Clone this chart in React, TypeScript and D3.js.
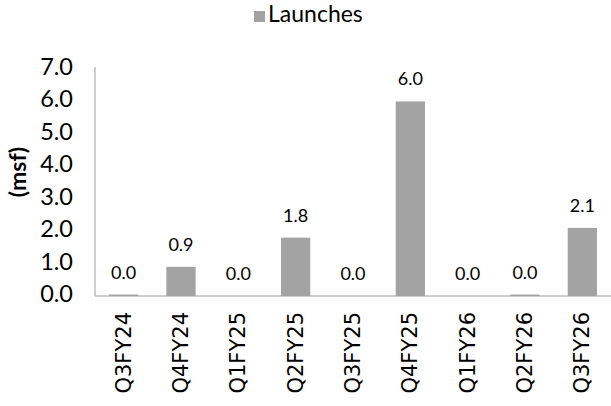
import React from "react";
import * as d3 from "d3";

const categories = ["Q3FY24", "Q4FY24", "Q1FY25", "Q2FY25", "Q3FY25", "Q4FY25", "Q1FY26", "Q2FY26", "Q3FY26"];
const launches = [0.045, 0.9, 0, 1.8, 0, 6.0, 0, 0.045, 2.1];
const yTicks = [0, 1, 2, 3, 4, 5, 6, 7];
const seriesName = "Launches";
const yTitle = "(msf)";

const W = 611;
const H = 406;
const left = 95;
const right = 611;
const top = 67;
const bottom = 296;

export default function App() {
  const x = d3.scaleBand<string>().domain(categories).range([left, right]).paddingInner(0.49).paddingOuter(0.245);
  const y = d3.scaleLinear().domain([0, 7]).range([bottom, top + 2]);
  const fmt = d3.format(".1f");
  const barColor = "#a3a3a3";
  const axisColor = "#bfbfbf";
  const lato = "Lato, 'Open Sans', sans-serif";
  return (
    <svg width={W} height={H} style={{ position: "absolute", left: 0, top: 0, background: "#fff" }}>
      <g>
        <rect x={254} y={11} width={11} height={11} fill={barColor} />
        <text x={268} y={16.5} fontFamily={lato} fontSize={23} dominantBaseline="middle" fill="#000">{seriesName}</text>
      </g>
      <line x1={left} x2={left} y1={top} y2={bottom} stroke={axisColor} strokeWidth={1.5} />
      <line x1={left} x2={right} y1={bottom} y2={bottom} stroke={axisColor} strokeWidth={1.5} />
      {yTicks.map((t) => (
        <text key={t} x={73} y={y(t)} textAnchor="end" dominantBaseline="middle" fontFamily={lato} fontSize={23.5} fill="#000">{fmt(t)}</text>
      ))}
      <text transform={`translate(26,172) rotate(-90)`} textAnchor="middle" fontFamily={lato} fontWeight="bold" fontSize={23} fill="#000">{yTitle}</text>
      {categories.map((c, i) => {
        const v = launches[i];
        const bx = x(c)!;
        const by = y(v);
        return (
          <g key={c}>
            {v > 0 && <rect x={bx} y={by} width={x.bandwidth()} height={bottom - by} fill={barColor} />}
            <text x={bx + x.bandwidth() / 2} y={by - 16} textAnchor="middle" fontFamily={lato} fontSize={18} fill="#000">{fmt(v)}</text>
            <text transform={`translate(${bx + x.bandwidth() / 2 + 7},312) rotate(-90)`} textAnchor="end" fontFamily="'DejaVu Sans', sans-serif" fontSize={21} fill="#000">{c}</text>
          </g>
        );
      })}
    </svg>
  );
}
